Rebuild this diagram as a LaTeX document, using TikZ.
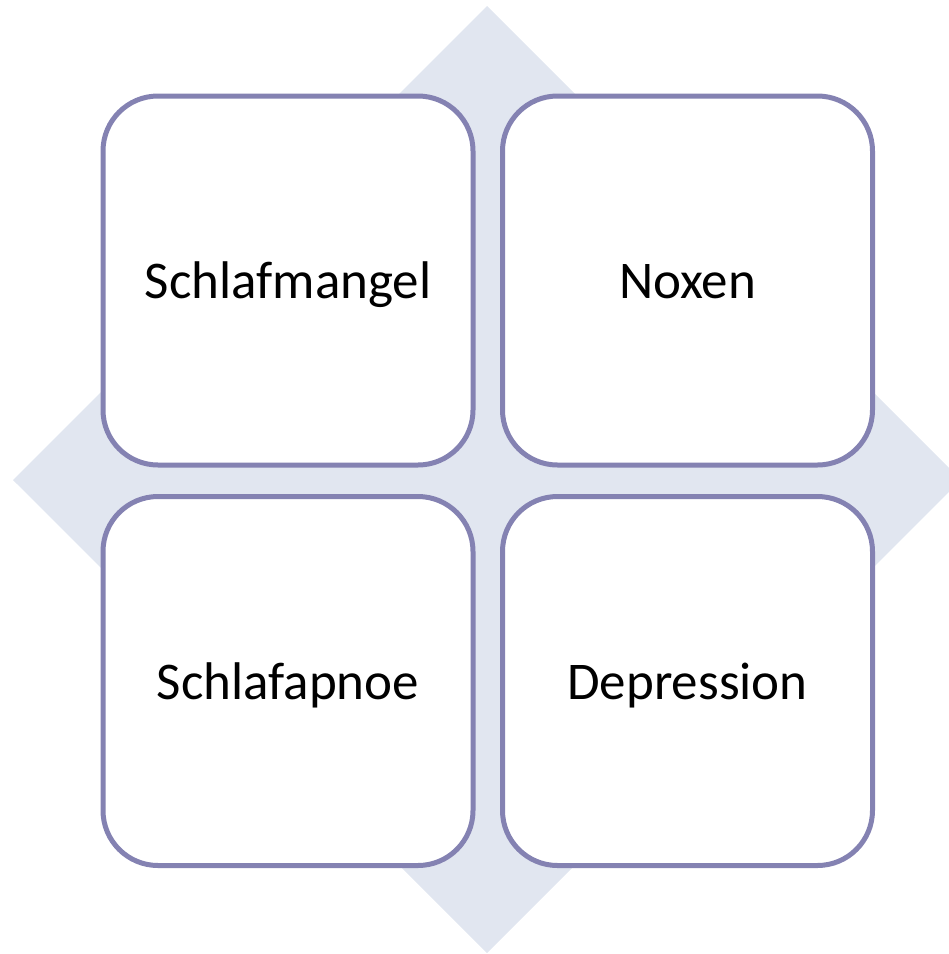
\documentclass[tikz,border=0pt]{standalone}
\usepackage{fontspec}
\setmainfont{Carlito}
\usepackage{tikz}
\usetikzlibrary{positioning}

\definecolor{boxline}{RGB}{132,130,178}
\definecolor{diamondfill}{RGB}{225,230,240}

\tikzset{
  cause/.style={draw=boxline, line width=5pt, fill=white, rounded corners=55pt,
    minimum width=370pt, minimum height=369pt, inner sep=0pt,
    text height=48pt, text depth=12pt,
    font=\fontsize{53}{60}\selectfont}
}

\begin{document}
\begin{tikzpicture}[x=1pt,y=-1pt]
\useasboundingbox (0,0) rectangle (949,954);
\clip (0,0) rectangle (949,954);

% background diamond
\fill[diamondfill] (487,6) -- (13,480) -- (487,953) -- (961,480) -- cycle;

\node[cause] (mangel) at (288,280.5) {Schlafmangel};
\node[cause] (noxen) at (687.5,280.5) {Noxen};
\node[cause] (apnoe) at (288,681) {Schlafapnoe};
\node[cause] (depr) at (687.5,681) {Depression};
\end{tikzpicture}
\end{document}
